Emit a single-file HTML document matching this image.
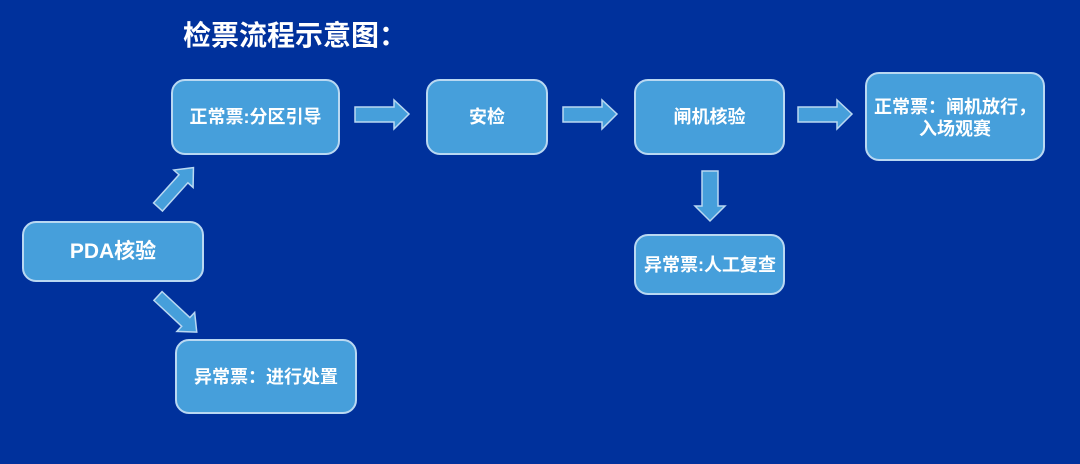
<!DOCTYPE html>
<html><head><meta charset="utf-8"><style>
body{margin:0;width:1080px;height:464px;background:#00319c;position:relative;overflow:hidden;font-family:"Liberation Sans","Noto Sans CJK SC",sans-serif;}
.b{position:absolute;background:#469fdb;border:2px solid #b9d8f2;border-radius:14px;box-sizing:border-box;color:#fff;font-weight:bold;display:flex;align-items:center;justify-content:center;text-align:center;font-size:18px;line-height:22px;}
.t{position:absolute;left:183px;top:14px;color:#fff;font-size:28px;font-weight:bold;}
svg{position:absolute;left:0;top:0}
</style></head><body>
<div class="t">检票流程示意图：</div>
<div class="b" style="left:171px;top:79px;width:169px;height:76px;">正常票:分区引导</div>
<div class="b" style="left:426px;top:79px;width:122px;height:76px;">安检</div>
<div class="b" style="left:634px;top:79px;width:151px;height:76px;">闸机核验</div>
<div class="b" style="left:865px;top:72px;width:180px;height:89px;align-items:flex-start;padding-top:22px;padding-left:2px;padding-right:2px;">正常票：闸机放行，<br>入场观赛</div>
<div class="b" style="left:634px;top:234px;width:151px;height:61px;justify-content:flex-start;padding-left:8px;">异常票:人工复查</div>
<div class="b" style="left:22px;top:221px;width:182px;height:61px;font-size:21px;">PDA核验</div>
<div class="b" style="left:175px;top:339px;width:182px;height:75px;">异常票：进行处置</div>
<svg width="1080" height="464" fill="#469fdb" stroke="#b9d8f2" stroke-width="1.5">
<polygon points="355,107 394,107 394,100 409,114 394,129 394,122 355,122"/>
<polygon points="563,107 602,107 602,100 617,114 602,129 602,122 563,122"/>
<polygon points="798,107 837,107 837,100 852,114 837,129 837,122 798,122"/>
<polygon points="702,171 718,171 718,206 725,206 710,221 695,206 702,206"/>
<g transform="translate(158,207) rotate(-48)"><polygon points="0,-6 38,-6 38,-13 53,0 38,13 38,6 0,6"/></g>
<g transform="translate(158,296) rotate(43)"><polygon points="0,-6 38,-6 38,-13 53,0 38,13 38,6 0,6"/></g>
</svg>
</body></html>
